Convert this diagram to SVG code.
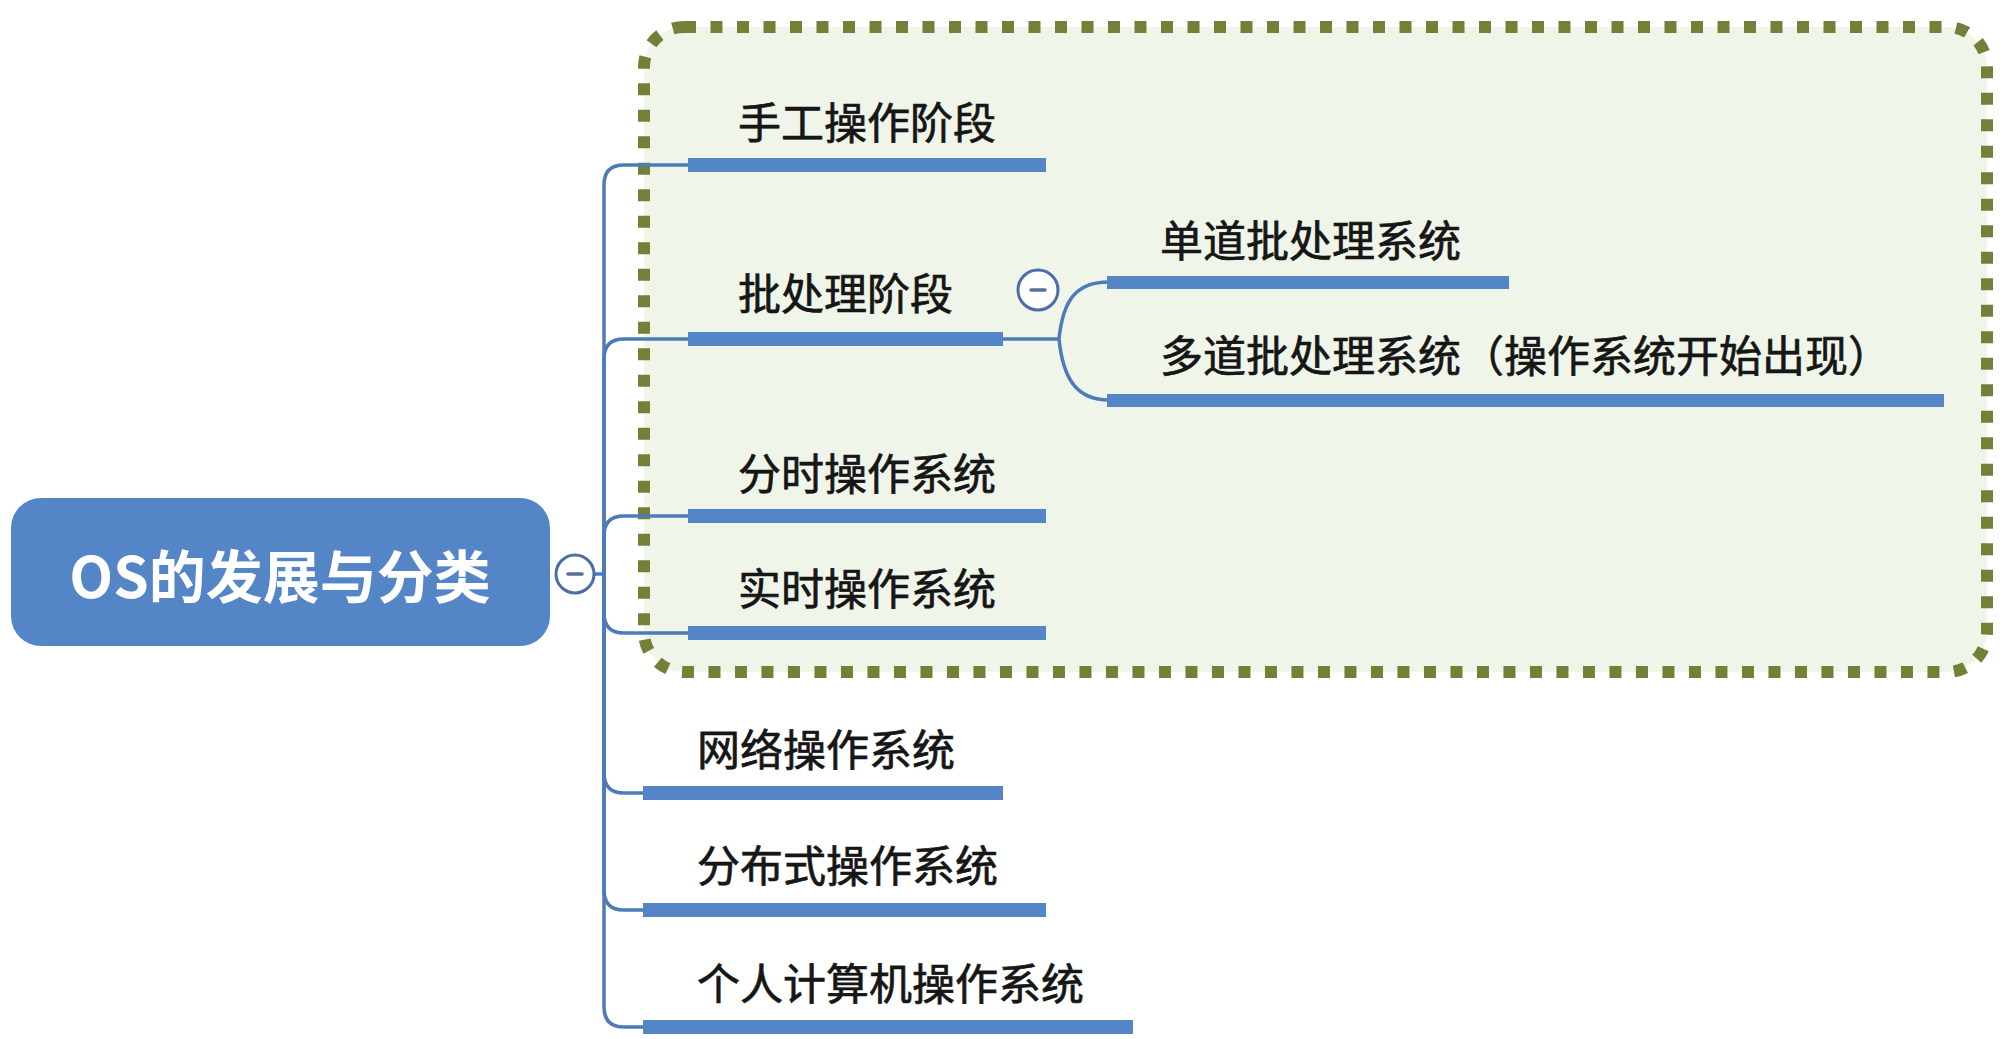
<svg xmlns="http://www.w3.org/2000/svg" width="2014" height="1039" viewBox="0 0 2014 1039">
<style>
.lbl{font-family:"Noto Sans CJK SC","Noto Sans",sans-serif;font-size:43px;fill:#161616;stroke:#161616;stroke-width:0.7}
.root{font-family:"Noto Sans CJK SC","Noto Sans",sans-serif;font-size:57px;font-weight:bold;fill:#ffffff}
.bar{fill:#5485c6}
.conn{fill:none;stroke:#4d7bb8;stroke-width:3.5}
.tog{fill:#ffffff;stroke:#4b6ea6;stroke-width:3}
.minus{stroke:#5a6f98;stroke-width:3.5;stroke-linecap:round}
</style>
<rect width="2014" height="1039" fill="#ffffff"/>
<g id="boundary">
<rect x="644" y="27" width="1343" height="645" rx="40" fill="#f0f5e9" stroke="#748038" stroke-width="12" stroke-dasharray="12 14.5"/>
</g>
<g id="connectors">
<path class="conn" d="M594,574 H604"/>
<path class="conn" d="M604,574 V185 Q604,165 624,165 H690"/>
<path class="conn" d="M604,574 V359 Q604,339 624,339 H690"/>
<path class="conn" d="M604,574 V536 Q604,516 624,516 H690"/>
<path class="conn" d="M604,574 V613 Q604,633 624,633 H690"/>
<path class="conn" d="M604,574 V773 Q604,793 624,793 H645"/>
<path class="conn" d="M604,574 V890 Q604,910 624,910 H645"/>
<path class="conn" d="M604,574 V1007 Q604,1027 624,1027 H645"/>
<path class="conn" d="M1001,339 H1059"/>
<path class="conn" d="M1059,339 C1063,300 1076,282 1109,282"/>
<path class="conn" d="M1059,339 C1063,378 1076,400 1109,400"/>
</g>
<g id="root">
<rect x="11" y="498" width="539" height="148" rx="30" fill="#5485c6"/>
<text class="root" x="280" y="598" text-anchor="middle">OS的发展与分类</text>
<circle class="tog" cx="575" cy="574" r="19"/>
<line class="minus" x1="568" y1="574" x2="582" y2="574"/>
</g>
<g id="n1">
<rect class="bar" x="688" y="158" width="358" height="14"/>
<text class="lbl" x="738" y="139">手工操作阶段</text>
</g>
<g id="n2">
<rect class="bar" x="688" y="332" width="315" height="14"/>
<text class="lbl" x="738" y="310">批处理阶段</text>
<circle class="tog" cx="1038" cy="290" r="20"/>
<line class="minus" x1="1031" y1="290" x2="1045" y2="290"/>
</g>
<g id="n2a">
<rect class="bar" x="1107" y="276" width="402" height="13"/>
<text class="lbl" x="1160" y="257">单道批处理系统</text>
</g>
<g id="n2b">
<rect class="bar" x="1107" y="394" width="837" height="13"/>
<text class="lbl" x="1160" y="372">多道批处理系统（操作系统开始出现）</text>
</g>
<g id="n3">
<rect class="bar" x="688" y="509" width="358" height="14"/>
<text class="lbl" x="738" y="490">分时操作系统</text>
</g>
<g id="n4">
<rect class="bar" x="688" y="626" width="358" height="14"/>
<text class="lbl" x="738" y="605">实时操作系统</text>
</g>
<g id="n5">
<rect class="bar" x="643" y="786" width="360" height="14"/>
<text class="lbl" x="697" y="766">网络操作系统</text>
</g>
<g id="n6">
<rect class="bar" x="643" y="903" width="403" height="14"/>
<text class="lbl" x="697" y="882">分布式操作系统</text>
</g>
<g id="n7">
<rect class="bar" x="643" y="1020" width="490" height="14"/>
<text class="lbl" x="697" y="1000">个人计算机操作系统</text>
</g>
</svg>
